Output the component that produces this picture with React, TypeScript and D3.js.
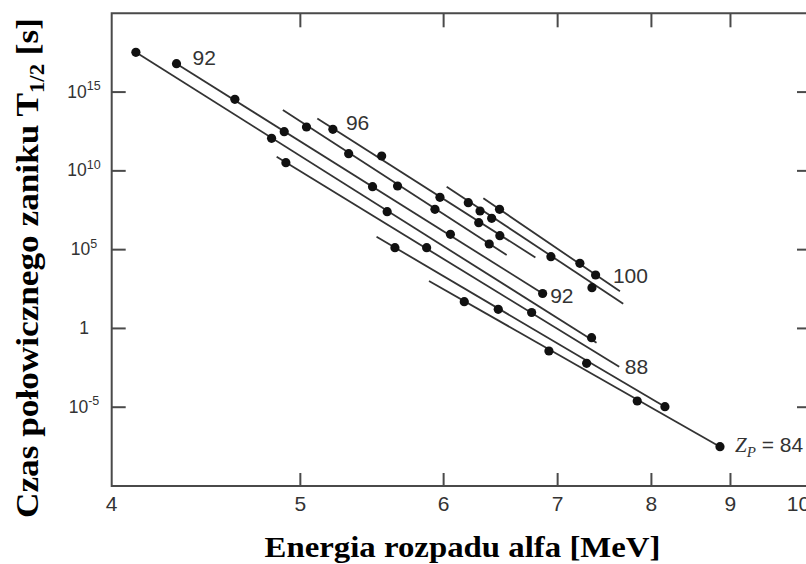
import React from "react";
import * as d3 from "d3";

const W = 806;
const H = 564;

// X: alpha decay energy [MeV]; Y: log10 of half-life [s]
const xTickValues = [4, 5, 6, 7, 8, 9, 10];
const xInnerTicks = [5, 6, 7, 8, 9];
const yTickExps = [15, 10, 5, 0, -5];

// Each isotope line: [E, log10 T] at its two ends, plus measured points
const z84Line = [[5.886, 3.011], [8.858, -7.505]];
const z84Points = [[6.166, 1.697], [6.916, -1.432], [7.837, -4.605], [8.858, -7.505]];

const z86Line = [[5.501, 5.822], [8.16, -4.967]];
const z86Points = [[5.632, 5.124], [6.453, 1.215], [7.29, -2.212], [8.16, -4.967]];

const z88Line = [[4.857, 10.899], [7.636, -2.428]];
const z88Points = [[4.912, 10.518], [5.868, 5.124], [6.753, 1.012]];

const z90Line = [[4.112, 17.525], [7.393, -0.905]];
const z90Points = [[4.112, 17.525], [4.827, 12.067], [5.576, 7.409], [7.341, -0.587]];

const z92Line = [[4.31, 16.801], [6.856, 2.218]];
const z92Points = [[4.31, 16.801], [4.618, 14.542], [4.902, 12.486], [5.473, 8.995], [6.054, 5.974], [6.856, 2.218]];

const z94Line = [[4.894, 13.863], [6.527, 4.661]];
const z94Points = [[5.038, 12.784], [5.31, 11.09], [5.651, 9.04], [5.932, 7.561], [6.375, 5.359]];

const z96Line = [[5.106, 13.324], [6.788, 4.502]];
const z96Points = [[5.206, 12.638], [5.537, 10.944], [5.971, 8.323], [6.286, 6.711], [6.467, 5.886]];

const z98Line = [[6.024, 8.995], [7.68, 1.57]];
const z98Points = [[6.199, 7.98], [6.297, 7.453], [6.396, 6.99], [6.935, 4.553], [7.345, 2.586]];

const z100Line = [[6.325, 8.259], [7.644, 2.357]];
const z100Points = [[6.464, 7.561], [7.221, 4.134], [7.383, 3.392]];

const seriesList = [
  { z: 84, line: z84Line, points: z84Points },
  { z: 86, line: z86Line, points: z86Points },
  { z: 88, line: z88Line, points: z88Points },
  { z: 90, line: z90Line, points: z90Points },
  { z: 92, line: z92Line, points: z92Points },
  { z: 94, line: z94Line, points: z94Points },
  { z: 96, line: z96Line, points: z96Points },
  { z: 98, line: z98Line, points: z98Points },
  { z: 100, line: z100Line, points: z100Points },
];

// Annotation labels anchored to a data point of a line
const annotations = [
  { text: "92", at: z92Points[0], dx: 16, dy: 1 },
  { text: "96", at: z96Points[0], dx: 13, dy: 1 },
  { text: "100", at: z100Line[1], dx: -7, dy: -8.5 },
  { text: "92", at: z92Points[5], dx: 7.5, dy: 9.5 },
  { text: "88", at: z88Line[1], dx: 5.5, dy: 7 },
];
const zpLabel = { at: z84Points[3], dx: 15, dy: 5 };

const LEFT = 111.7;
const RIGHT = 811;
const TOP = 13.3;
const BOTTOM = 486;

export default function App() {
  const x = d3.scalePow().exponent(-0.36).domain([4, 10]).range([LEFT, 798.4]);
  const y = d3.scaleLog().domain([1e-10, 1e20]).range([BOTTOM, TOP]);
  const yl = (l: number) => y(Math.pow(10, l));
  const lineGen = d3
    .line<number[]>()
    .x((d) => x(d[0]))
    .y((d) => yl(d[1]));

  const axisColor = "#4a4a4a";
  const textColor = "#333";
  const sans = "'Liberation Sans', Arial, Helvetica, sans-serif";
  const serif = "'Liberation Serif', 'Times New Roman', serif";

  return (
    <svg
      width={W}
      height={H}
      style={{ position: "absolute", left: 0, top: 0, background: "#fff" }}
    >
      <rect x={0} y={0} width={W} height={H} fill="#fff" />
      {/* frame */}
      <path
        d={`M${LEFT},${BOTTOM} L${LEFT},${TOP} L${RIGHT},${TOP} L${RIGHT},${BOTTOM} Z`}
        fill="none"
        stroke={axisColor}
        strokeWidth={2}
      />
      {/* x ticks */}
      {xInnerTicks.map((v) => (
        <g key={"xt" + v}>
          <line x1={x(v)} x2={x(v)} y1={BOTTOM} y2={BOTTOM - 13} stroke={axisColor} strokeWidth={2} />
          <line x1={x(v)} x2={x(v)} y1={TOP} y2={TOP + 14} stroke={axisColor} strokeWidth={2} />
        </g>
      ))}
      {xTickValues.map((v) => (
        <text
          key={"xl" + v}
          x={x(v)}
          y={510.5}
          textAnchor="middle"
          fontFamily={sans}
          fontSize={21}
          fill={textColor}
        >
          {String(v)}
        </text>
      ))}
      {/* y ticks */}
      {yTickExps.map((e) => (
        <g key={"yt" + e}>
          <line x1={LEFT} x2={LEFT + 14} y1={yl(e)} y2={yl(e)} stroke={axisColor} strokeWidth={2} />
          <line x1={RIGHT} x2={RIGHT - 14} y1={yl(e)} y2={yl(e)} stroke={axisColor} strokeWidth={2} />
          <text
            x={84}
            y={yl(e) + 5.5}
            textAnchor="middle"
            fontFamily={sans}
            fontSize={17.5}
            fill={textColor}
          >
            {e === 0 ? (
              "1"
            ) : (
              <>
                <tspan>10</tspan>
                <tspan dy={-7.5} fontSize={12.5}>
                  {String(e)}
                </tspan>
              </>
            )}
          </text>
        </g>
      ))}
      {/* lines */}
      {seriesList.map((s) => (
        <path
          key={"l" + s.z}
          d={lineGen(s.line) || ""}
          fill="none"
          stroke="#333"
          strokeWidth={1.8}
        />
      ))}
      {seriesList.map((s) =>
        s.points.map((p, i) => (
          <circle key={"p" + s.z + "-" + i} cx={x(p[0])} cy={yl(p[1])} r={4.6} fill="#111" />
        ))
      )}
      {/* annotations */}
      {annotations.map((a, i) => (
        <text
          key={"a" + i}
          x={x(a.at[0]) + a.dx}
          y={yl(a.at[1]) + a.dy}
          fontFamily={sans}
          fontSize={21}
          fill={textColor}
        >
          {a.text}
        </text>
      ))}
      <text
        x={x(zpLabel.at[0]) + zpLabel.dx}
        y={yl(zpLabel.at[1]) + zpLabel.dy}
        fontFamily={sans}
        fontSize={21}
        fill={textColor}
      >
        <tspan fontFamily={serif} fontStyle="italic">Z</tspan>
        <tspan fontFamily={serif} fontStyle="italic" fontSize={15} dy={5}>P</tspan>
        <tspan dy={-5}> = 84</tspan>
      </text>
      {/* axis titles */}
      <text
        x={462.5}
        y={556.5}
        textAnchor="middle"
        fontFamily={serif}
        fontWeight="bold"
        fontSize={30}
        textLength={396}
        lengthAdjust="spacingAndGlyphs"
        fill="#000"
      >
        Energia rozpadu alfa [MeV]
      </text>
      <text
        transform="translate(37.5, 518) rotate(-90)"
        fontFamily={serif}
        fontWeight="bold"
        fontSize={31}
        textLength={500}
        lengthAdjust="spacingAndGlyphs"
        fill="#000"
      >
        Czas połowicznego zaniku T
        <tspan fontSize={20} dy={6}>1/2</tspan>
        <tspan dy={-6}> [s]</tspan>
      </text>
    </svg>
  );
}
